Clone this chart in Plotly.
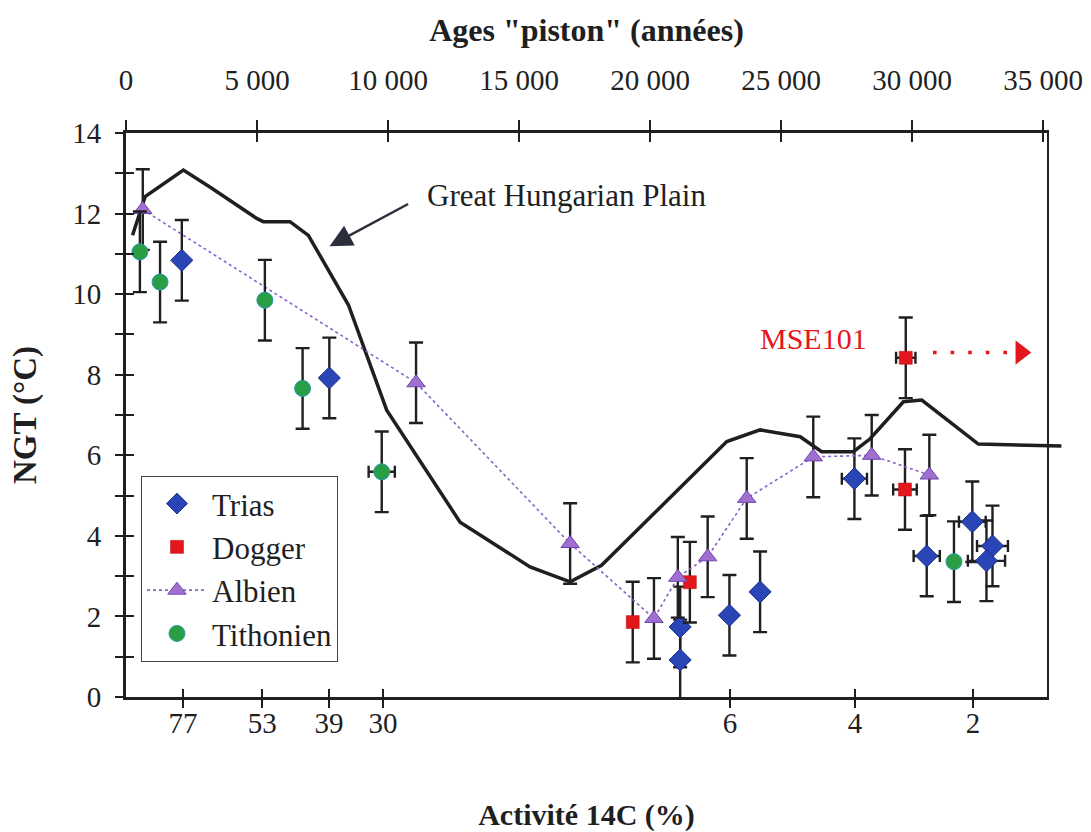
import plotly.graph_objects as go

# ---------------- data (age in years "piston", NGT in °C) ----------------
GHP_AGE = [250, 730, 2190, 3200, 4990, 5240, 6260, 6960, 8490, 9950, 12750, 15420,
           16950, 18150, 22930, 24200, 25730, 26550, 27760, 28400, 29670, 30370, 32530, 35700]
GHP_NGT = [11.46, 12.42, 13.08, 12.66, 11.88, 11.80, 11.80, 11.46, 9.73, 7.12, 4.34, 3.23,
           2.86, 3.27, 6.34, 6.63, 6.46, 6.09, 6.09, 6.41, 7.33, 7.37, 6.28, 6.23]

TRIAS_AGE = [2130, 7760, 21150, 21150, 23030, 24200, 27800, 30560, 32300, 33070, 32840]
TRIAS_NGT = [10.84, 7.92, 1.74, 0.92, 2.03, 2.61, 5.42, 3.50, 4.35, 3.75, 3.38]
TRIAS_ERR_NGT = [1.0, 1.0, 1.0, 1.0, 1.0, 1.0, 1.0, 1.0, 1.0, 1.0, 1.0]
TRIAS_ERR_AGE = [0, 0, 0, 0, 0, 0, 480, 500, 510, 590, 710]

DOGGER_AGE = [19340, 21520, 29730, 29760]
DOGGER_NGT = [1.86, 2.85, 5.15, 8.42]
DOGGER_ERR_NGT = [1.0, 1.0, 1.0, 1.0]
DOGGER_ERR_AGE = [0, 0, 450, 370]

ALBIEN_AGE = [640, 11070, 16950, 20150, 21060, 22200, 23690, 26230, 28460, 30660]
ALBIEN_NGT = [12.10, 7.80, 3.81, 1.95, 2.97, 3.48, 4.93, 5.96, 6.00, 5.51]
ALBIEN_ERR_NGT = [1.0, 1.0, 1.0, 1.0, 1.0, 1.0, 1.0, 1.0, 1.0, 1.0]

TITHO_AGE = [530, 1300, 5300, 6740, 9760, 31600]
TITHO_NGT = [11.05, 10.30, 9.85, 7.66, 5.59, 3.36]
TITHO_ERR_NGT = [1.0, 1.0, 1.0, 1.0, 1.0, 1.0]
TITHO_ERR_AGE = [0, 0, 0, 0, 500, 0]

# axis ticks
TOP_TICK_AGES = [0, 5000, 10000, 15000, 20000, 25000, 30000, 35000]
TOP_TICK_LABELS = ["0", "5 000", "10 000", "15 000", "20 000", "25 000", "30 000", "35 000"]
BOTTOM_TICK_AGES = [2180, 5200, 7750, 9810, 23050, 27820, 32330]
BOTTOM_TICK_LABELS = ["77", "53", "39", "30", "6", "4", "2"]
NGT_TICKS = [0, 2, 4, 6, 8, 10, 12, 14]

# annotation anchors (data coordinates)
GHP_LABEL = (16810, 12.46)
GHP_ARROW_TIP = (7770, 11.19)
MSE101_LABEL = (26220, 8.89)
MSE101_ARROW_AGE = [30800, 33750]
MSE101_ARROW_NGT = [8.55, 8.55]
MSE101_HEAD_AGE = [34150]
MSE101_HEAD_NGT = [8.55]

# ---------------- style ----------------
FONT = "Liberation Serif"
INK = "#1f1f1f"
FRAME_RANGE = [0, 35150]      # framed area (axes)
DATA_RANGE = [0, 35761]       # data area, slightly wider so the curve overshoots the frame
FRAME_DOMAIN = [0, 921 / 937]

ERR = dict(color=INK, thickness=2.4, width=7)
ERRX = dict(color=INK, thickness=2.4, width=6)

fig = go.Figure()

fig.add_trace(go.Scatter(
    x=GHP_AGE, y=GHP_NGT, mode="lines", name="Great Hungarian Plain",
    line=dict(color=INK, width=3.5), showlegend=False, hoverinfo="skip"))

fig.add_trace(go.Scatter(
    x=TRIAS_AGE, y=TRIAS_NGT, mode="markers", name="Trias",
    marker=dict(symbol="diamond", size=17, color="#2a46b6", line=dict(color="#1b2d86", width=1)),
    error_y=dict(type="data", array=TRIAS_ERR_NGT, **ERR),
    error_x=dict(type="data", array=TRIAS_ERR_AGE, **ERRX)))

fig.add_trace(go.Scatter(
    x=DOGGER_AGE, y=DOGGER_NGT, mode="markers", name="Dogger",
    marker=dict(symbol="square", size=13, color="#e3161b", line=dict(color="#b01014", width=0.5)),
    error_y=dict(type="data", array=DOGGER_ERR_NGT, **ERR),
    error_x=dict(type="data", array=DOGGER_ERR_AGE, **ERRX)))

fig.add_trace(go.Scatter(
    x=ALBIEN_AGE, y=ALBIEN_NGT, mode="lines+markers", name="Albien",
    line=dict(color="#8a62c8", width=1.6, dash="3px,3px"),
    marker=dict(symbol="triangle-up", size=16, color="#a070d0", line=dict(color="#6f45b0", width=1)),
    error_y=dict(type="data", array=ALBIEN_ERR_NGT, **ERR)))

fig.add_trace(go.Scatter(
    x=TITHO_AGE, y=TITHO_NGT, mode="markers", name="Tithonien",
    marker=dict(symbol="circle", size=16, color="#2b9e45", line=dict(color="#2a9ab0", width=1)),
    error_y=dict(type="data", array=TITHO_ERR_NGT, **ERR),
    error_x=dict(type="data", array=TITHO_ERR_AGE, **ERRX)))

# MSE101 red dotted arrow
fig.add_trace(go.Scatter(
    x=MSE101_ARROW_AGE, y=MSE101_ARROW_NGT, mode="lines", showlegend=False, hoverinfo="skip",
    line=dict(color="#e3161b", width=3.6, dash="3.6px,14px")))
fig.add_trace(go.Scatter(
    x=MSE101_HEAD_AGE, y=MSE101_HEAD_NGT, mode="markers", showlegend=False, hoverinfo="skip",
    marker=dict(symbol="triangle-right", size=21, color="#e3161b")))

# empty helper traces so that every framing axis gets drawn
for xa, ya in [("x2", "y"), ("x3", "y"), ("x4", "y"), ("x5", "y"), ("x2", "y2"), ("x2", "y3")]:
    fig.add_trace(go.Scatter(x=[None], y=[None], xaxis=xa, yaxis=ya, showlegend=False,
                             hoverinfo="skip", mode="markers"))

tickfont = dict(family=FONT, size=29, color=INK)
titlefont = dict(family=FONT, size=30, color=INK, weight="bold")

fig.update_layout(
    width=1091, height=832,
    margin=dict(l=126, r=28, t=133, b=135, autoexpand=False),
    paper_bgcolor="white", plot_bgcolor="rgba(0,0,0,0)",
    font=dict(family=FONT, color=INK),
    showlegend=True,
    legend=dict(x=0.016, y=0.392, xanchor="left", yanchor="top",
                bgcolor="white", bordercolor="#444", borderwidth=1,
                font=dict(family=FONT, size=31, color=INK), itemwidth=60,
                tracegroupgap=0),
    # data axis (invisible)
    xaxis=dict(domain=[0, 1], range=DATA_RANGE, visible=False, anchor="y", fixedrange=True,
               automargin=False),
    # bottom axis: 14C activity
    xaxis2=dict(domain=FRAME_DOMAIN, range=FRAME_RANGE, anchor="y", side="bottom",
                tickmode="array", tickvals=BOTTOM_TICK_AGES, ticktext=BOTTOM_TICK_LABELS,
                ticks="outside", ticklen=8, tickwidth=2, tickcolor=INK,
                showline=True, linewidth=3, linecolor=INK, showgrid=False, zeroline=False,
                tickfont=tickfont, ticklabelstandoff=-10, automargin=False,
                title=dict(text="Activité 14C (%)", font=titlefont, standoff=70)),
    xaxis3=dict(overlaying="x2", range=FRAME_RANGE, anchor="y", side="bottom",
                tickmode="array", tickvals=BOTTOM_TICK_AGES, ticks="inside", ticklen=8,
                tickwidth=2, tickcolor=INK, showticklabels=False, showline=False,
                showgrid=False, zeroline=False, automargin=False),
    # top axis: ages
    xaxis4=dict(overlaying="x2", range=FRAME_RANGE, anchor="y", side="top",
                tickmode="array", tickvals=TOP_TICK_AGES, ticktext=TOP_TICK_LABELS,
                ticks="outside", ticklen=10, tickwidth=1.5, tickcolor=INK,
                showline=True, linewidth=3, linecolor=INK, showgrid=False, zeroline=False,
                tickfont=tickfont, ticklabelstandoff=18, automargin=False,
                title=dict(text='Ages "piston" (années)',
                           font=dict(family=FONT, size=32, color=INK, weight="bold"),
                           standoff=14)),
    xaxis5=dict(overlaying="x2", range=FRAME_RANGE, anchor="y", side="top",
                tickmode="array", tickvals=TOP_TICK_AGES, ticks="inside", ticklen=9,
                tickwidth=1.5, tickcolor=INK, showticklabels=False, showline=False,
                showgrid=False, zeroline=False, automargin=False),
    # NGT axis
    yaxis=dict(range=[0, 14], anchor="x2", side="left", tickmode="array", tickvals=NGT_TICKS,
               ticks="outside", ticklen=8, tickwidth=1.5, tickcolor=INK,
               minor=dict(dtick=1, ticks="outside", ticklen=8, tickwidth=1.5, tickcolor=INK),
               showline=True, linewidth=3, linecolor=INK, showgrid=False, zeroline=False,
               tickfont=tickfont, ticklabelstandoff=8, automargin=False,
               title=dict(text="NGT (°C)",
                          font=dict(family=FONT, size=33, color=INK, weight="bold"),
                          standoff=26)),
    yaxis2=dict(overlaying="y", range=[0, 14], anchor="x2", side="left", dtick=1,
                ticks="inside", ticklen=8, tickwidth=1.5, tickcolor=INK,
                showticklabels=False, showline=False, showgrid=False, zeroline=False,
                automargin=False),
    yaxis3=dict(overlaying="y", range=[0, 14], anchor="x2", side="right",
                ticks="", showticklabels=False, showline=True, linewidth=1.8,
                linecolor=INK, showgrid=False, zeroline=False, automargin=False),
    annotations=[
        dict(x=GHP_LABEL[0], y=GHP_LABEL[1], xref="x", yref="y", text="Great Hungarian Plain",
             showarrow=False, font=dict(family=FONT, size=31, color=INK)),
        dict(x=GHP_ARROW_TIP[0], y=GHP_ARROW_TIP[1], xref="x", yref="y", text="",
             showarrow=True, ax=80, ay=-43, arrowhead=2, arrowsize=1.8, arrowwidth=2.5,
             arrowcolor="#2b2f3c"),
        dict(x=MSE101_LABEL[0], y=MSE101_LABEL[1], xref="x", yref="y", text="MSE101",
             showarrow=False, font=dict(family=FONT, size=30, color="#e3161b")),
    ],
)

# remove the default page margin so the 1091x832 figure sits at the window's top-left corner
fig.write_html("out.html", config={"displayModeBar": False},
               post_script="document.body.style.margin='0';")
